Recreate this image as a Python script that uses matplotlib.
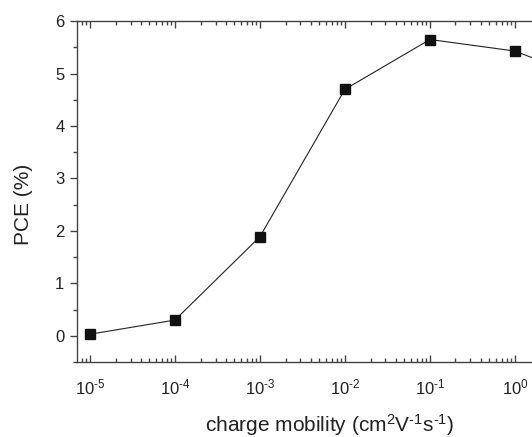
import numpy as np
import matplotlib
matplotlib.use("Agg")
from matplotlib import pyplot as plt
from matplotlib.ticker import LogLocator, MultipleLocator, FuncFormatter

plt.rcParams['font.family'] = ['Liberation Sans', 'DejaVu Sans']
plt.rcParams['mathtext.fontset'] = 'custom'
plt.rcParams['mathtext.rm'] = 'Liberation Sans'
plt.rcParams['mathtext.it'] = 'Liberation Sans'

# data
mobility = [1e-5, 1e-4, 1e-3, 1e-2, 1e-1, 1e0, 1e1]
pce = [0.03, 0.30, 1.89, 4.70, 5.65, 5.43, 4.80]

fig = plt.figure(figsize=(5.32, 4.37), dpi=100)
ax = fig.add_axes([0.1447, 0.1716, 0.903, 0.780])

ax.plot(mobility, pce, color='#222222', lw=0.8, marker='s', ms=7,
        mfc='#111111', mec='#111111')

ax.set_xscale('log')
ax.set_xlim(10 ** -5.153, 10 ** 0.5)
ax.set_ylim(-0.5, 6)
ax.yaxis.set_major_locator(MultipleLocator(1))
ax.yaxis.set_minor_locator(MultipleLocator(0.5))
ax.xaxis.set_major_locator(LogLocator(base=10, numticks=20))
ax.xaxis.set_minor_locator(LogLocator(base=10, subs=np.arange(2, 10), numticks=20))


def dec_label(v, pos):
    e = int(round(np.log10(v)))
    return r'10$^{\mathrm{%s}}$' % (str(e).replace('-', '\u2010'))


ax.xaxis.set_major_formatter(FuncFormatter(dec_label))

for s in ax.spines.values():
    s.set_color('#444444')
    s.set_linewidth(1.0)

ax.tick_params(axis='y', which='major', direction='out', length=5, width=1,
               color='#444444', labelsize=12, pad=4, labelcolor='#222222')
ax.tick_params(axis='y', which='minor', direction='out', length=3, width=1,
               color='#444444')
ax.tick_params(axis='x', which='major', direction='in', length=5, width=1,
               color='#444444', top=True, labelsize=12, pad=11,
               labelcolor='#222222')
ax.tick_params(axis='x', which='minor', direction='in', length=3, width=1,
               color='#444444', top=True)

ax.set_ylabel('PCE (%)', fontsize=15, color='#222222', va='center')
ax.yaxis.set_label_coords((24 - 77) / 480.5, (437 - 204 - 75) / 341)
ax.set_xlabel('charge mobility (cm$^2$V$^{\u20101}$s$^{\u20101}$)', fontsize=15,
              color='#222222', va='center')
ax.xaxis.set_label_coords((330 - 77) / 480.5, -(425 - 362) / 341)

fig.savefig('out.png', dpi=100)
